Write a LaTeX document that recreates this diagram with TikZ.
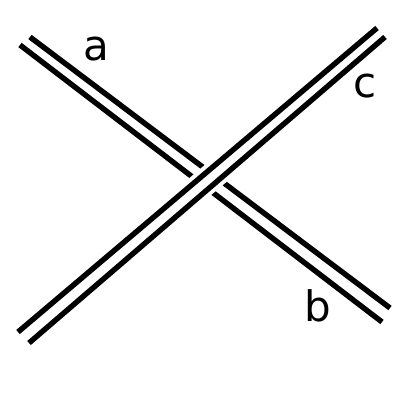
\documentclass[tikz,border=0pt]{standalone}
\usepackage{fontspec}
\setmainfont{DejaVu Sans}
\begin{document}
\begin{tikzpicture}[x=1pt,y=-1pt,
  strandline/.style={line width=5.4pt, line cap=butt},
  mask/.style={white, line width=27pt, line cap=butt},
  lbl/.style={font=\fontsize{42}{42}\selectfont, inner sep=0pt}]
\useasboundingbox (0,0) rectangle (412,412);
% under strand a-b
\coordinate (a1s) at (30,37);  \coordinate (a1e) at (390,308);
\coordinate (a2s) at (20,45);  \coordinate (a2e) at (382,322);
\draw[strandline] (a1s) -- (a1e);
\draw[strandline] (a2s) -- (a2e);
% mask for crossing
\coordinate (ms) at (120,255); \coordinate (me) at (290,110);
\draw[mask] (ms) -- (me);
% over strand c
\coordinate (c1s) at (18,332); \coordinate (c1e) at (377,28);
\coordinate (c2s) at (29,343); \coordinate (c2e) at (385,37);
\draw[strandline] (c1s) -- (c1e);
\draw[strandline] (c2s) -- (c2e);
% labels
\node[lbl] (la) at (96,49) {a};
\node[lbl] (lc) at (365,86) {c};
\node[lbl] (lb) at (318,306) {b};
\end{tikzpicture}
\end{document}
